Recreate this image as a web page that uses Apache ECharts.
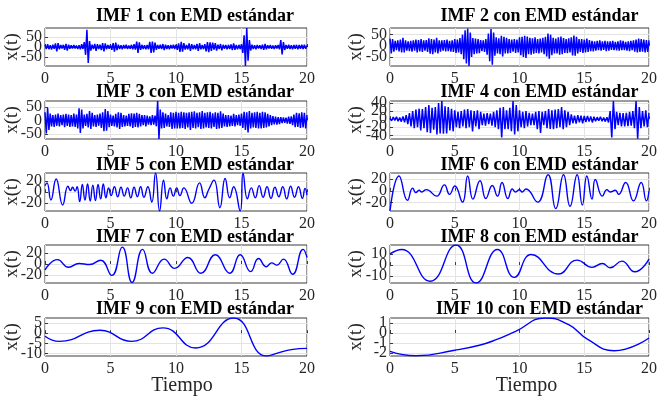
<!DOCTYPE html>
<html>
<head>
<meta charset="utf-8">
<script src="https://cdn.jsdelivr.net/npm/echarts@6/dist/echarts.min.js"></script>
<style>
  body { margin: 0; background: #fff; }
  #main { width: 660px; height: 401px; }
</style>
</head>
<body>
<div id="main"></div>
<script>
// IMF 1-3: muestreadas cada 0.1 s
var dt13 = 0.1;
var imf1 = [
  12,-10,14,-11,9,-13,12,-9,18,-22,
  20,-12,10,-8,11,-14,16,-18,12,-9,
  9,-8,10,-7,8,-10,9,-12,14,-10,
  25,-40,88,-82,30,-18,12,-10,16,-20,
  14,-10,12,-16,20,-22,18,-12,10,-9,
  11,-14,20,-24,22,-16,12,-10,9,-11,
  10,-8,12,-10,8,-9,11,-12,14,-13,
  28,-30,24,-15,11,-10,9,-12,10,-11,
  26,-30,28,-27,22,-14,10,-9,11,-10,
  15,-16,12,-10,9,-11,10,-8,12,-10,
  11,-14,18,-25,26,-24,20,-13,10,-12,
  18,-20,14,-11,10,-12,16,-20,19,-12,
  10,-11,14,-22,25,-26,24,-20,22,-13,
  20,-18,12,-10,15,-17,11,-9,10,-12,
  11,-10,13,-16,18,-14,10,-12,11,-10,
  14,-30,60,-97,97,-70,35,-18,12,-10,
  9,-11,10,-8,9,-10,12,-15,16,-12,
  9,-8,10,-9,8,-10,9,-8,10,-12,
  35,-38,25,-15,10,-9,11,-10,9,-12,
  10,-9,11,-12,10,-9,12,-10,11,-9,8
];
var imf2 = [
  32,-35,30,-26,22,-20,24,-25,28,-30,
  36,-30,25,-22,20,-24,22,-26,25,-22,
  28,-30,26,-25,30,-28,24,-22,26,-28,
  34,-36,30,-38,28,-30,36,-34,25,-26,
  24,-22,26,-25,28,-24,22,-26,25,-28,
  30,-32,28,-30,35,-38,50,-60,70,-80,
  78,-91,60,-50,35,-38,32,-35,30,-33,
  26,-24,25,-28,30,-40,55,-70,75,-85,
  60,-45,38,-35,34,-38,45,-48,40,-35,
  36,-34,30,-32,28,-26,30,-32,28,-30,
  38,-42,40,-50,45,-55,42,-38,36,-40,
  34,-36,38,-32,30,-35,33,-30,36,-38,
  40,-48,55,-58,50,-42,36,-34,32,-35,
  38,-40,42,-38,35,-32,30,-33,34,-30,
  38,-44,46,-45,40,-34,30,-28,30,-32,
  28,-30,32,-28,26,-24,22,-25,20,-22,
  22,-20,24,-22,20,-18,22,-24,20,-22,
  20,-18,22,-20,18,-21,20,-22,24,-20,
  22,-20,18,-22,20,-24,22,-20,24,-26,
  28,-30,32,-28,30,-26,28,-30,26,-28,24
];
var imf3 = [
  30,-48,46,-35,25,-22,20,-24,22,-20,
  25,-22,20,-18,22,-25,24,-20,22,-24,
  20,-22,25,-24,22,-30,45,-47,40,-30,
  22,-20,24,-26,35,-32,28,-22,20,-24,
  22,-20,25,-28,30,-40,42,-38,35,-25,
  22,-20,18,-22,24,-26,30,-32,28,-24,
  20,-22,18,-20,24,-22,26,-28,25,-24,
  28,-26,24,-22,20,-18,20,-22,18,-16,
  15,-18,20,-16,18,-22,72,-69,40,-30,
  30,-28,25,-22,20,-24,30,-32,28,-30,
  32,-30,28,-30,32,-28,30,-32,28,-26,
  30,-35,32,-28,34,-30,28,-25,30,-32,
  35,-30,28,-26,30,-28,32,-30,26,-24,
  30,-32,28,-30,34,-28,25,-22,20,-24,
  20,-22,18,-20,24,-22,20,-18,22,-20,
  25,-28,32,-35,30,-45,35,-30,28,-26,
  30,-28,32,-30,28,-30,32,-28,30,-26,
  24,-22,20,-18,16,-15,14,-16,12,-14,
  12,-10,11,-9,10,-12,14,-13,15,-18,
  22,-25,28,-24,26,-28,30,-26,28,-30,20
];
// IMF 4: muestreada cada 0.125 s
var dt4 = 0.125;
var imf4 = [
  2,-4,5,-3,6,-5,4,-6,
  7,-8,10,-12,15,-18,20,-22,
  24,-20,26,-28,25,-22,30,-32,
  35,-34,28,-26,30,-38,40,-35,
  45,-36,32,-35,30,-28,26,-30,
  22,-20,18,-22,20,-18,24,-22,
  25,-20,22,-30,20,-18,22,-25,
  18,-15,14,-16,15,-12,14,-16,
  18,-20,22,-25,28,-45,30,-25,
  22,-25,28,-30,45,-38,35,-30,
  22,-20,18,-22,20,-18,16,-15,
  14,-15,18,-25,20,-34,18,-15,
  20,-22,25,-24,22,-25,24,-22,
  25,-20,30,-25,22,-20,18,-15,
  12,-10,9,-11,10,-8,9,-10,
  8,-7,8,-6,7,-8,6,-5,
  5,-4,6,-5,4,-6,5,-8,
  20,-45,45,-25,18,-15,16,-18,
  15,-18,16,-17,18,-16,20,-22,
  45,-48,30,-22,20,-18,22,-20,15
];
// IMF 5-10: extremos leidos [t, x]
var imf5 = [
  [0,12],[0.15,17],[0.45,-14],[0.85,24],[1.35,-23],[1.75,11],[1.95,3],[2.1,9],[2.3,2],[2.45,10],
  [2.65,-17],[2.85,14],[3.05,-14],[3.25,15],[3.45,-16],[3.65,13],[3.85,-15],[4.05,14],[4.25,-12],[4.45,15],
  [4.65,-10],[4.85,8],[5.05,-6],[5.3,10],[5.55,-8],[5.8,9],[6.05,-7],[6.3,8],[6.55,-10],[6.8,9],
  [7.05,-8],[7.3,10],[7.55,-9],[7.85,10],[8.15,-18],[8.44,35],[8.75,-34],[9.05,22],[9.3,-12],[9.55,8],
  [9.8,-7],[10.05,8],[10.3,-6],[10.6,8],[11.2,-20],[11.8,17],[12.2,-10],[12.5,5],[12.9,22],[13.35,-28],
  [13.75,25],[14.1,-10],[14.4,10],[14.9,-34],[15.12,35],[15.45,-12],[15.75,8],[16.05,-10],[16.35,12],[16.65,-9],
  [16.95,10],[17.25,-11],[17.55,9],[17.85,-8],[18.15,10],[18.45,-12],[18.75,11],[19.05,-9],[19.35,10],[19.65,-11],
  [19.85,7],[20,-5]
];
var imf6 = [
  [0,-34],[0.7,25],[1.35,-16],[1.75,4.5],[2.0,-3],[2.25,1],[2.45,-2],[2.8,2],[3.6,-9],[4.2,10],
  [4.6,-6],[5.0,8],[5.6,-19],[6.0,25],[6.4,-14],[6.95,17],[7.4,-13],[7.9,9],[8.3,-9],[8.65,14],
  [9.1,-13],[9.45,3],[9.7,-2],[10.0,2],[10.2,-2],[10.5,3],[11.4,-19],[12.2,27],[12.8,-30],[13.4,27],
  [13.9,-26],[14.45,27],[14.85,-24],[15.2,25],[15.6,-14],[15.85,19],[16.4,-9],[16.75,2],[17.0,-2],[17.4,1],
  [17.65,-6],[18.2,14],[18.8,-17],[19.4,14],[19.8,-17],[20,0]
];
var imf7 = [
  [0,-11],[0.95,8],[1.8,-6],[2.6,1],[3.4,-1],[4.25,7],[5.1,-21],[5.9,31],[6.65,-34],[7.45,27],
  [8.2,-17],[9.1,9],[9.9,-8],[10.9,12],[11.9,-17],[13.0,17],[14.1,-17],[14.9,17],[15.7,-14],[16.3,10],
  [16.9,-5],[17.3,2],[17.7,-2],[18.2,9],[18.9,-19],[19.7,27],[20,12]
];
var imf8 = [
  [0,10],[0.9,14],[3.1,-14.5],[5.1,18],[6.65,-16],[8.3,14],[9.6,-11],[10.9,9.5],[13.0,-8],[14.45,4.5],
  [15.6,-2],[16.4,1.5],[17.0,-2.4],[17.9,3.6],[18.9,-6],[20,5.4]
];
var imf9 = [
  [0,-1.5],[1.1,-4],[4.2,1.4],[6.6,-4],[9.0,2.6],[11.5,-7.2],[14.4,7.4],[16.9,-11.1],[17.8,-9.6],[18.8,-8.0],
  [20,-7.4]
];
var imf10 = [
  [0,-1.83],[2,-2.27],[5,-1.73],[6.9,-1.23],[8.2,-0.67],[9.7,0.17],[12,1.5],[13.8,0.83],[15.3,-0.67],[17.3,-1.77],
  [20,-0.5]
];

var titles = [
  "IMF 1 con EMD estándar", "IMF 2 con EMD estándar", "IMF 3 con EMD estándar",
  "IMF 4 con EMD estándar", "IMF 5 con EMD estándar", "IMF 6 con EMD estándar",
  "IMF 7 con EMD estándar", "IMF 8 con EMD estándar", "IMF 9 con EMD estándar",
  "IMF 10 con EMD estándar"
];
var yLimits = [[-97, 97], [-91, 80], [-69, 72], [-49, 45], [-34, 35], [-34, 30], [-35, 35], [-16, 18], [-11.1, 7.4], [-2.3, 1.5]];
var yTicks = [[-50, 0, 50], [-50, 0, 50], [-50, 0, 50], [-40, -20, 0, 20, 40], [-20, 0, 20], [-20, 0, 20], [-20, 0, 20], [-10, 0, 10], [-10, -5, 0, 5], [-2, -1, 0, 1]];

function toPairs(vals, dt) {
  return vals.map(function (v, i) { return [i * dt, v]; });
}
var seriesData = [
  toPairs(imf1, dt13), toPairs(imf2, dt13), toPairs(imf3, dt13), toPairs(imf4, dt4),
  imf5, imf6, imf7, imf8, imf9, imf10
];

// layout de los subplots (px)
var colLeft = [45, 390];
var colWidth = [262, 261];
var rowTop = [28, 101, 173, 245, 318];
var plotH = 38;
var titleY = [16, 92.5, 165, 237.5, 309];
var serif = "Liberation Serif";
var labelStyle = { color: "#262626", fontFamily: serif, fontSize: 16, hideOverlap: false, showMinLabel: true, showMaxLabel: true };

var grids = [], xAxes = [], yAxes = [], series = [], graphics = [];
for (var k = 0; k < 10; k++) {
  var col = k % 2, row = Math.floor(k / 2);
  grids.push({
    left: colLeft[col], top: rowTop[row], width: colWidth[col], height: plotH,
    show: true, borderColor: "#3a3a3a", borderWidth: 1, backgroundColor: "#fff"
  });
  xAxes.push({
    type: "value", gridIndex: k, min: 0, max: 20, interval: 5,
    axisLine: { show: false },
    axisTick: { show: true, inside: true, length: 3, lineStyle: { color: "#3a3a3a" } },
    axisLabel: Object.assign({ margin: 5 }, labelStyle),
    splitLine: { show: true, lineStyle: { color: "#e3e3e3", width: 1 } }
  });
  // las etiquetas del eje y se reparten en tres ejes superpuestos para que ninguna se oculte
  var mainY = yAxes.length;
  for (var j = 0; j < 3; j++) {
    var sub = yTicks[k].filter(function (v, i) { return i % 3 === j; });
    if (!sub.length) continue;
    yAxes.push({
      type: "value", gridIndex: k, min: yLimits[k][0], max: yLimits[k][1], position: "left", offset: 0,
      axisLine: { show: false },
      axisTick: { show: j === 0, inside: true, length: 3, customValues: yTicks[k], lineStyle: { color: "#3a3a3a" } },
      axisLabel: Object.assign({ margin: 3, interval: 0, customValues: sub }, labelStyle),
      splitLine: { show: j === 0, lineStyle: { color: "#e3e3e3", width: 1 } }
    });
  }
  series.push({
    type: "line", xAxisIndex: k, yAxisIndex: mainY, data: seriesData[k],
    showSymbol: false, smooth: k >= 4, clip: true,
    lineStyle: { color: "#0000ff", width: k >= 4 ? 1.4 : 1.5 }
  });
  var cx = colLeft[col] + colWidth[col] / 2;
  graphics.push({
    type: "text", x: cx + 19, y: titleY[row],
    style: { text: titles[k], font: "bold 18px " + serif, fill: "#000", textAlign: "center", textVerticalAlign: "middle", align: "center", verticalAlign: "middle" }
  });
  graphics.push({
    type: "text", x: col === 0 ? 12 : 356, y: rowTop[row] + plotH / 2, rotation: Math.PI / 2,
    style: { text: "x(t)", font: "19px " + serif, fill: "#262626", textAlign: "center", textVerticalAlign: "middle", align: "center", verticalAlign: "middle" }
  });
  if (row === 4) {
    graphics.push({
      type: "text", x: cx + 6, y: 386,
      style: { text: "Tiempo", font: "20px " + serif, fill: "#262626", textAlign: "center", textVerticalAlign: "middle", align: "center", verticalAlign: "middle" }
    });
  }
}

var myChart = echarts.init(document.getElementById("main"), null, { width: 660, height: 401 });
myChart.setOption({
  backgroundColor: "#fff",
  animation: false,
  grid: grids,
  xAxis: xAxes,
  yAxis: yAxes,
  series: series,
  graphic: graphics
});
</script>
</body>
</html>
